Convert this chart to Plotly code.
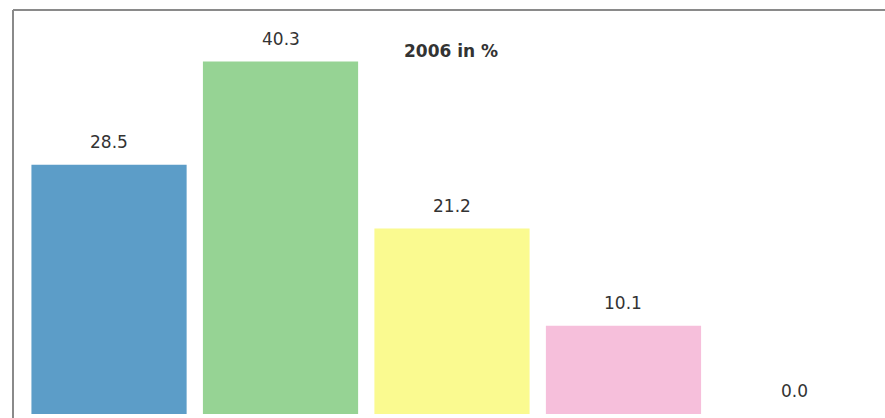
import plotly.graph_objects as go

categories = ["A", "B", "C", "D", "E"]
values = [28.5, 40.3, 21.2, 10.1, 0.0]
colors = ["#5C9DC8", "#96D394", "#FAFA90", "#F6BFDB", "#FFFFFF"]
title_text = "2006 in %"

fig = go.Figure()
fig.add_trace(go.Bar(
    x=categories, y=values,
    marker=dict(color=colors, line=dict(width=0)),
    hoverinfo="skip",
))

for c, v in zip(categories, values):
    fig.add_annotation(
        x=c, y=v, text=f"{v:.1f}", showarrow=False,
        yanchor="middle", yshift=23,
        font=dict(family="DejaVu Sans", size=17, color="#333333"),
    )

fig.add_annotation(
    xref="paper", yref="paper", x=(451 - 13) / 872, y=1 - (51 - 10) / 404,
    xanchor="center", yanchor="middle",
    text=f"<b>{title_text}</b>", showarrow=False,
    font=dict(family="DejaVu Sans", size=17, color="#333333"),
)

fig.update_layout(
    width=885, height=418,
    margin=dict(l=13, r=0, t=10, b=4),
    paper_bgcolor="white", plot_bgcolor="white",
    bargap=0.095,
    showlegend=False,
    xaxis=dict(range=[-0.56, 4.525], showticklabels=False, showgrid=False,
               zeroline=False, showline=False, ticks=""),
    yaxis=dict(range=[0, 46.2], showticklabels=False, showgrid=False,
               zeroline=False, showline=False, ticks=""),
    shapes=[
        dict(type="line", xref="paper", yref="paper", x0=0, x1=0, y0=-0.02, y1=1,
             line=dict(color="#8a8a8a", width=2)),
        dict(type="line", xref="paper", yref="paper", x0=0, x1=1.02, y0=1, y1=1,
             line=dict(color="#8a8a8a", width=2)),
    ],
)

fig.write_html("out.html")
